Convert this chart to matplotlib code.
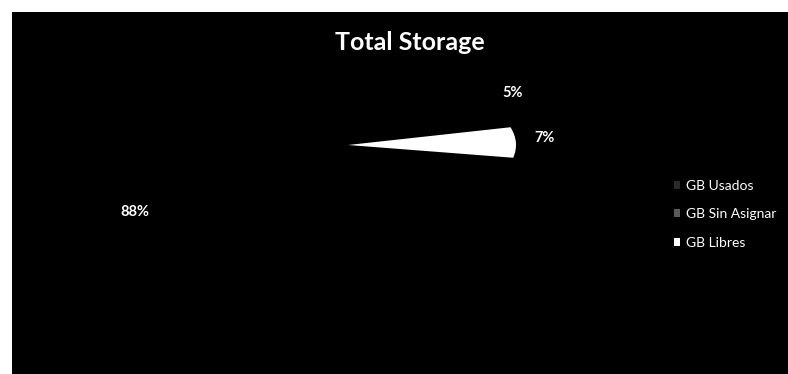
import matplotlib.pyplot as plt
from matplotlib.patches import Rectangle

# datos del grafico
categorias = ["GB Usados", "GB Sin Asignar", "GB Libres"]
porcentajes = [88, 5, 7]
colores = ["#000000", "#000000", "#ffffff"]

W, H = 788, 374
fig = plt.figure(figsize=(W / 100, H / 100), dpi=100)
fig.patch.set_facecolor("white")

# fondo negro del grafico escaneado
fig.patches.append(Rectangle((12 / W, 0), 1 - 12 / W, 1 - 12 / H,
                             transform=fig.transFigure, facecolor="black",
                             edgecolor="none", zorder=-10))

fig.text(410 / W, 1 - 42 / H, "Total Storage", color="white",
         fontsize=18, fontweight="bold", family="Lato",
         ha="center", va="center")

# pie aplastado (efecto 3D)
rx, ry = 168, 70
ax = fig.add_axes([(348 - 1.25 * rx) / W, (229 - 1.25 * ry) / H,
                   2.5 * rx / W, 2.5 * ry / H])
wedges, texts, autotexts = ax.pie(
    porcentajes, colors=colores, startangle=-10.5, counterclock=False,
    autopct="%d%%", wedgeprops=dict(linewidth=0),
    textprops=dict(color="white", fontsize=10.5, fontweight="bold",
                   family="Lato"))
ax.set_aspect("auto")
ax.set_xlim(-1.25, 1.25)
ax.set_ylim(-1.25, 1.25)
ax.axis("off")

# posiciones de etiquetas como en el original
pos = [(-1.27, -0.95), (0.98, 0.74), (1.17, 0.10)]
for t, p in zip(autotexts, pos):
    t.set_position(p)
    t.set_ha("center")
    t.set_va("center")

# marcadores de leyenda (escaneo: casi invisibles)
leg = fig.legend(wedges, categorias, loc="upper left",
                 bbox_to_anchor=(661 / W, 1 - 167 / H), frameon=False,
                 labelcolor="white", handlelength=0.5, handleheight=0.5,
                 handletextpad=0.4, labelspacing=1.2,
                 prop=dict(family="Lato", size=10))
leg.legend_handles[0].set_facecolor("#2a2a2a")
leg.legend_handles[1].set_facecolor("#5a5a5a")

fig.savefig("out.png", dpi=100, facecolor=fig.get_facecolor())
